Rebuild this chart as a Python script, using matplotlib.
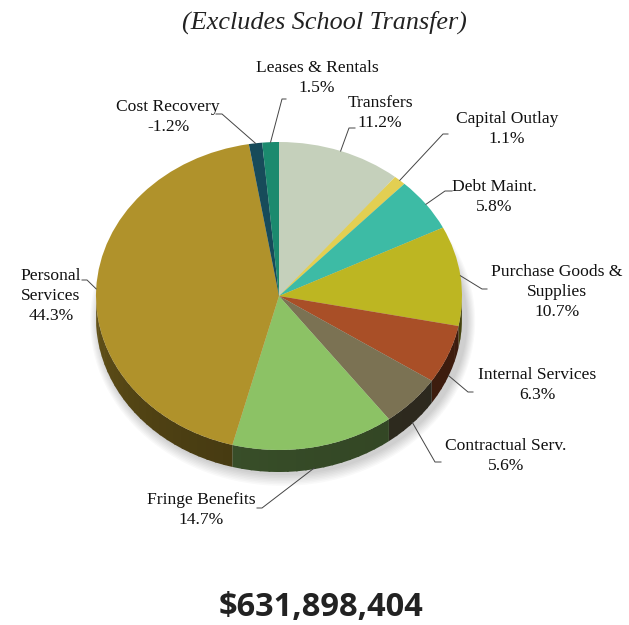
import numpy as np
import matplotlib.pyplot as plt
from matplotlib.patches import Polygon, Ellipse
from matplotlib.colors import to_rgb

categories = ['Transfers', 'Capital Outlay', 'Debt Maint.', 'Purchase Goods &\nSupplies',
              'Internal Services', 'Contractual Serv.', 'Fringe Benefits',
              'Personal\nServices', 'Cost Recovery', 'Leases & Rentals']
shares = [11.2, 1.1, 5.8, 10.7, 6.3, 5.6, 14.7, 44.3, -1.2, 1.5]
colors = ['#c5d0bb', '#e3cf52', '#3dbba5', '#bdb622', '#a94f27', '#7b7253',
          '#8cc265', '#b0922b', '#174b5a', '#1b8a6e']
title = '(Excludes School Transfer)'
total = '$631,898,404'

# label centres and leader elbows in image pixels (x right, y down)
label_xy = [(380, 113), (507, 129), (494, 197), (557, 292), (537, 385),
            (506, 456), (201, 510), (51, 296), (168, 117), (317, 78)]
leaders = [[(349, 128), (355, 128)], [(443, 134), (448, 134)], [(445, 191), (452, 191)],
           [(482, 289), (487, 289)], [(468, 392), (473, 392)], [(435, 462), (441, 462)],
           [(262, 508), (257, 508)], [(87, 280), (82, 280)], [(222, 114), (216, 114)],
           [(282, 99), (286, 99)]]

W, H = 629, 625
CX, CY, RX, RY = 279, 296, 183, 154
DEPTH = 22 / RY


def px(x, y):
    return (x - CX) / RX, (CY - y) / RY


fig = plt.figure(figsize=(W / 100, H / 100), dpi=100)
ax = fig.add_axes([0, 0, 1, 1])

sizes = [abs(v) for v in shares]
wedges, _ = ax.pie(sizes, colors=colors, startangle=90, counterclock=False,
                   radius=1, wedgeprops=dict(linewidth=0))
for w in wedges:
    w.set_zorder(3)

# soft shadow under the pie
for k in range(8):
    ax.add_patch(Ellipse((0.02, -DEPTH - 0.02), 2.02 + k * 0.012, 2.0 + k * 0.02,
                         color='#000000', alpha=0.025, lw=0, zorder=1))

# side wall of the front half, shaded a little lighter towards the left
for w, c in zip(wedges, colors):
    t1, t2 = sorted((w.theta1, w.theta2))
    base = np.array(to_rgb(c))
    for lo, hi in [(t1, t2), (t1 + 360, t2 + 360), (t1 - 360, t2 - 360)]:
        a, b = max(lo, 180), min(hi, 360)
        if b <= a:
            continue
        steps = np.linspace(a, b, max(2, int((b - a) / 3) + 2))
        for s0, s1 in zip(steps[:-1], steps[1:]):
            tt = np.radians(np.linspace(s0, min(s1 + 0.6, b), 5))
            xs, ys = np.cos(tt), np.sin(tt)
            pts = np.column_stack([np.r_[xs, xs[::-1]], np.r_[ys, ys[::-1] - DEPTH]])
            f = 0.36 + 0.22 * ((360 - (s0 + s1) / 2) / 180) ** 3
            ax.add_patch(Polygon(pts, closed=True, facecolor=base * f, lw=0, zorder=2))

# labels and leader lines
for w, name, v, (lx, ly), elb in zip(wedges, categories, shares, label_xy, leaders):
    mid = np.radians((w.theta1 + w.theta2) / 2)
    ax_, ay_ = np.cos(mid), np.sin(mid)
    if ay_ < 0:
        ay_ -= DEPTH * 0.95
    pts = [(ax_, ay_)] + [px(*p) for p in elb]
    ax.plot([p[0] for p in pts], [p[1] for p in pts], color='#444444', lw=0.7, zorder=4)
    tx, ty = px(lx, ly)
    ax.text(tx, ty, f'{name}\n{v:.1f}%', ha='center', va='center', multialignment='center',
            family='Liberation Serif', fontsize=12.6, linespacing=1.3, color='#111111')

ax.set_xlim(px(0, 0)[0], px(W, 0)[0])
ax.set_ylim(px(0, H)[1], px(0, 0)[1])
ax.set_aspect('auto')
ax.axis('off')

fig.text(324 / W, 1 - 22 / H, title, ha='center', va='center', family='Liberation Serif',
         style='italic', fontsize=18.8, color='#222222')
fig.text(321 / W, 1 - 607 / H, total, ha='center', va='center', family='Open Sans',
         weight='bold', fontsize=23.5, color='#222222')

fig.savefig('out.png', dpi=100)
